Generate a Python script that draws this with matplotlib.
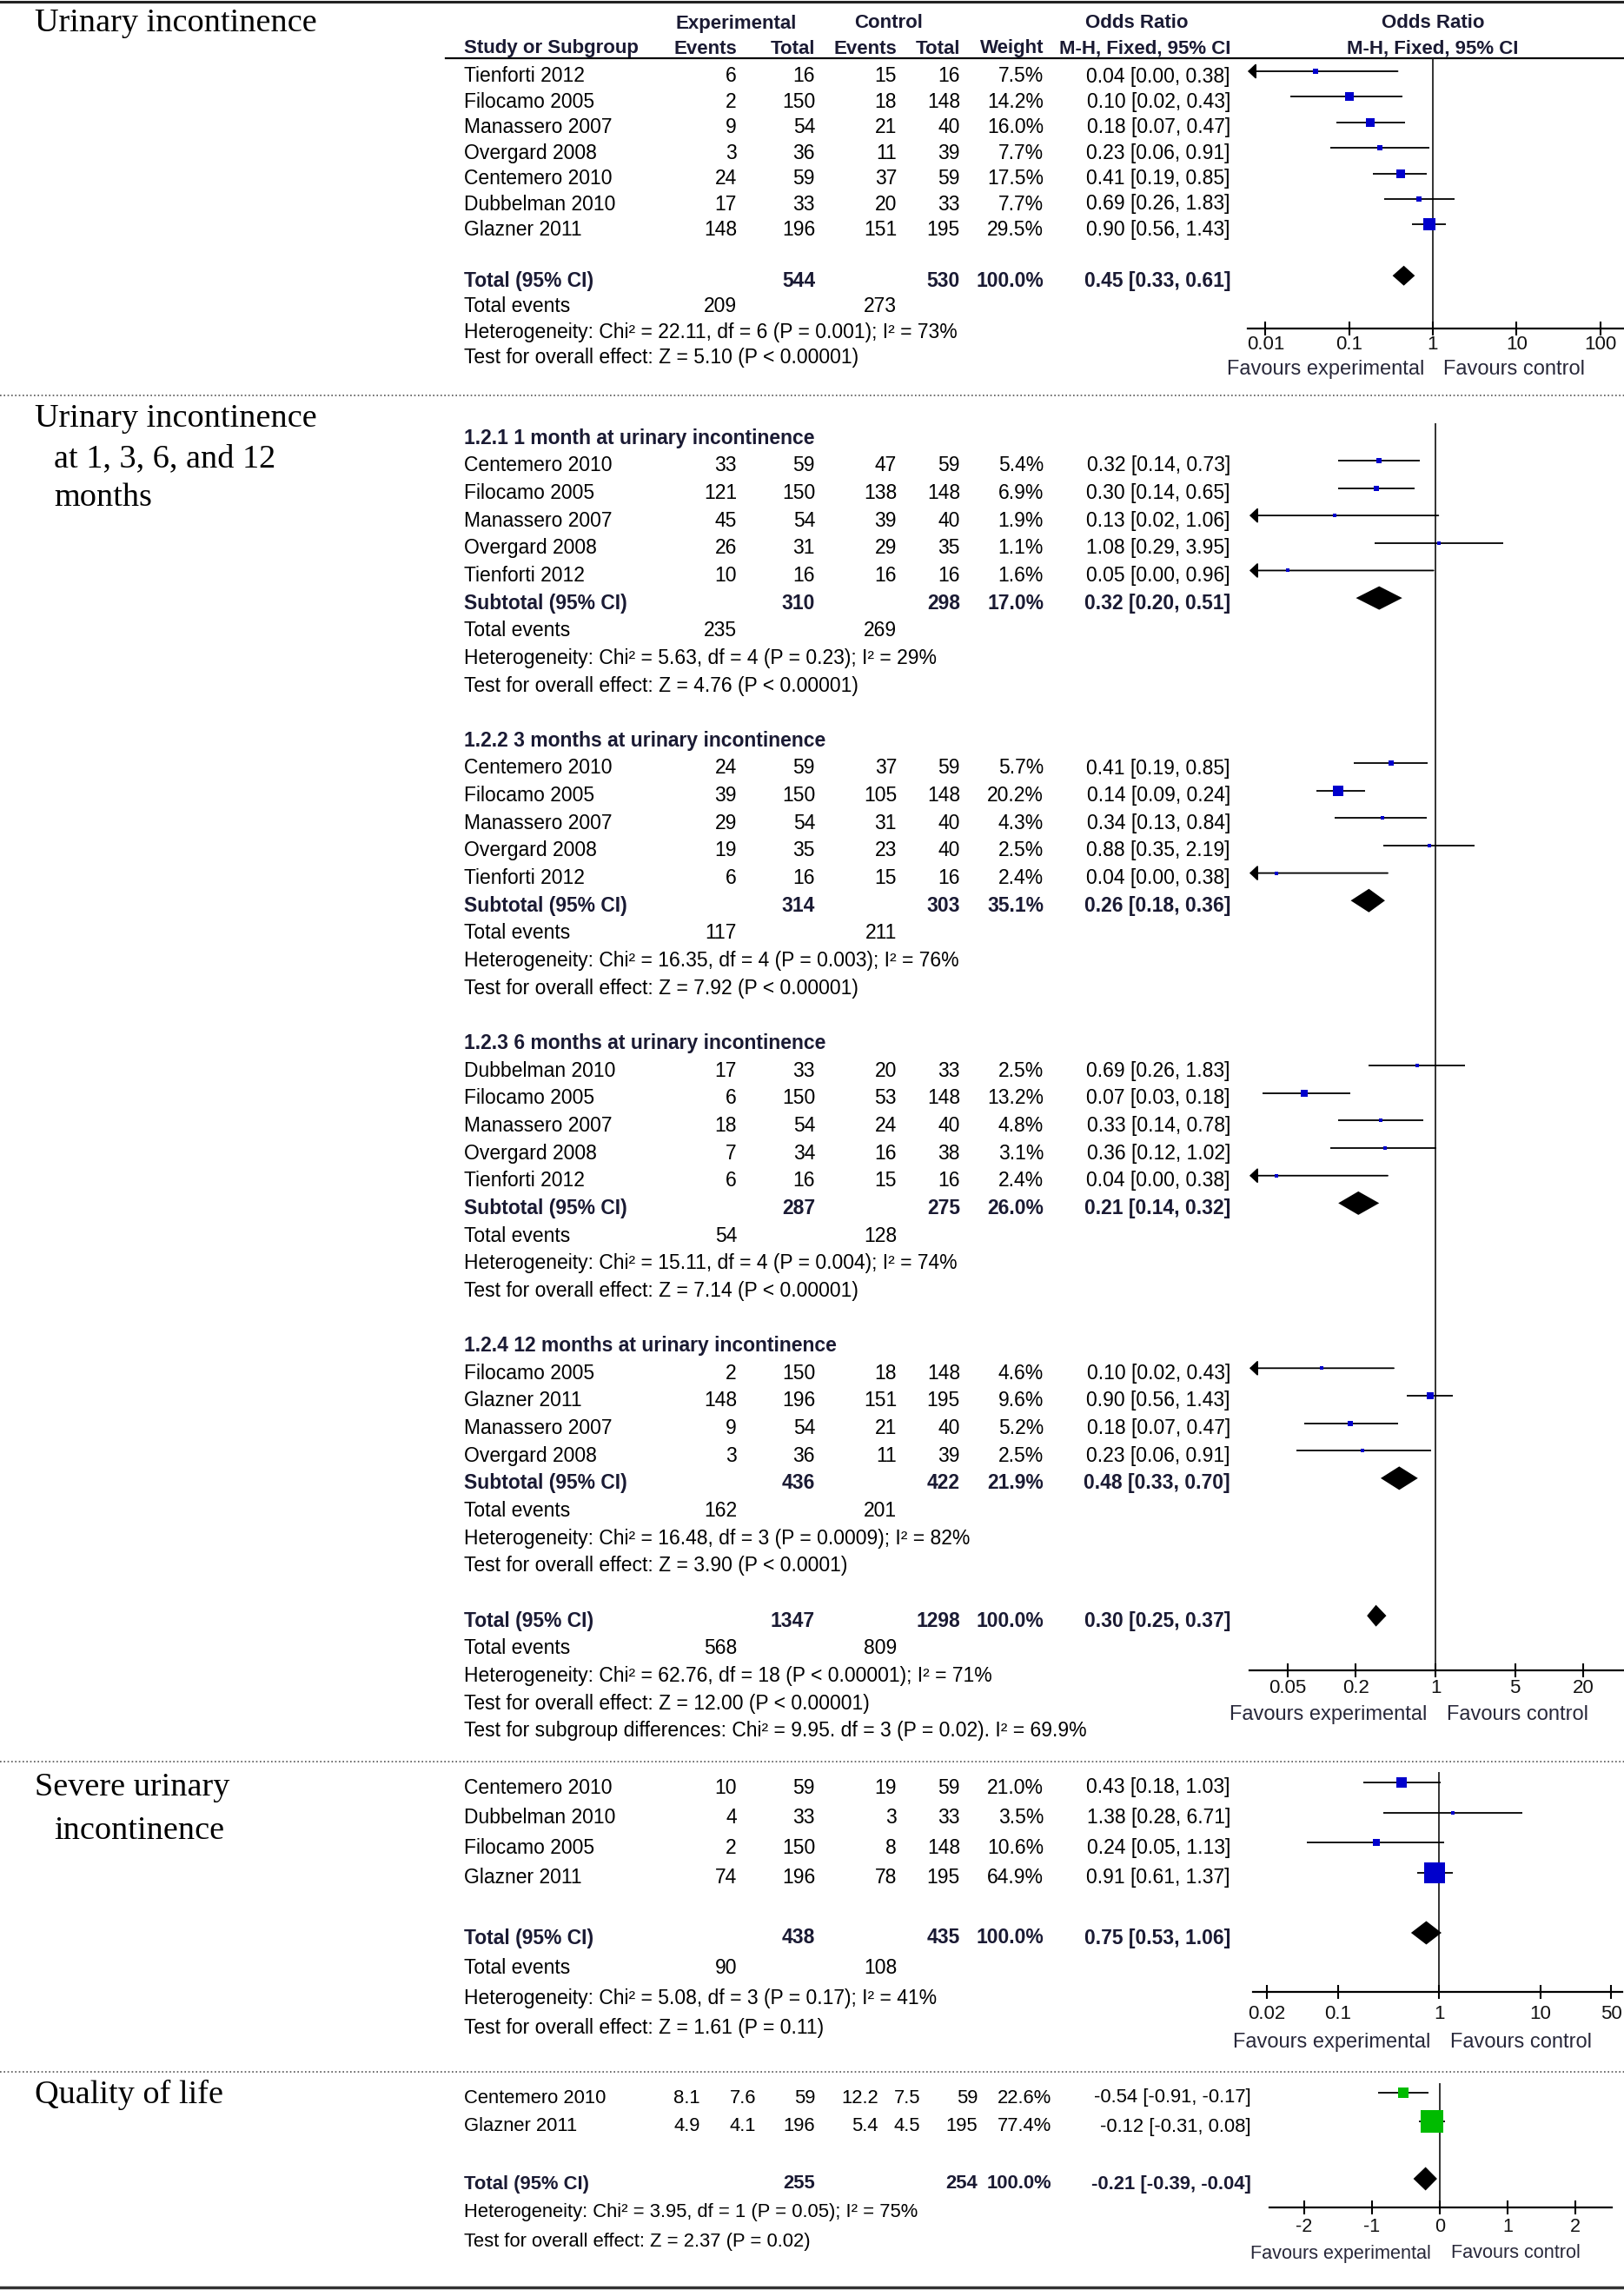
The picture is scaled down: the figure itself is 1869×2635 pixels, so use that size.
import matplotlib
matplotlib.use("Agg")
import matplotlib.pyplot as plt
from matplotlib.ticker import NullLocator

# ---------------- data ----------------
# Urinary incontinence (overall), odds ratio M-H fixed
ui_study = ['Tienforti 2012', 'Filocamo 2005', 'Manassero 2007', 'Overgard 2008',
            'Centemero 2010', 'Dubbelman 2010', 'Glazner 2011']
ui_exp_ev = [6, 2, 9, 3, 24, 17, 148]
ui_exp_n = [16, 150, 54, 36, 59, 33, 196]
ui_ctl_ev = [15, 18, 21, 11, 37, 20, 151]
ui_ctl_n = [16, 148, 40, 39, 59, 33, 195]
ui_weight = [7.5, 14.2, 16.0, 7.7, 17.5, 7.7, 29.5]
ui_or = [0.04, 0.10, 0.18, 0.23, 0.41, 0.69, 0.90]
ui_lo = [0.00, 0.02, 0.07, 0.06, 0.19, 0.26, 0.56]
ui_hi = [0.38, 0.43, 0.47, 0.91, 0.85, 1.83, 1.43]
ui_total = [544, 530, 100.0, 0.45, 0.33, 0.61]   # exp N, ctl N, weight, OR, lo, hi
ui_events = [209, 273]
ui_het = 'Heterogeneity: Chi² = 22.11, df = 6 (P = 0.001); I² = 73%'
ui_z = 'Test for overall effect: Z = 5.10 (P < 0.00001)'

# Urinary incontinence at 1, 3, 6 and 12 months
sub_name = ['1.2.1 1 month at urinary incontinence', '1.2.2 3 months at urinary incontinence',
            '1.2.3 6 months at urinary incontinence', '1.2.4 12 months at urinary incontinence']
sub_study = [['Centemero 2010', 'Filocamo 2005', 'Manassero 2007', 'Overgard 2008', 'Tienforti 2012'],
             ['Centemero 2010', 'Filocamo 2005', 'Manassero 2007', 'Overgard 2008', 'Tienforti 2012'],
             ['Dubbelman 2010', 'Filocamo 2005', 'Manassero 2007', 'Overgard 2008', 'Tienforti 2012'],
             ['Filocamo 2005', 'Glazner 2011', 'Manassero 2007', 'Overgard 2008']]
sub_exp_ev = [[33, 121, 45, 26, 10], [24, 39, 29, 19, 6], [17, 6, 18, 7, 6], [2, 148, 9, 3]]
sub_exp_n = [[59, 150, 54, 31, 16], [59, 150, 54, 35, 16], [33, 150, 54, 34, 16], [150, 196, 54, 36]]
sub_ctl_ev = [[47, 138, 39, 29, 16], [37, 105, 31, 23, 15], [20, 53, 24, 16, 15], [18, 151, 21, 11]]
sub_ctl_n = [[59, 148, 40, 35, 16], [59, 148, 40, 40, 16], [33, 148, 40, 38, 16], [148, 195, 40, 39]]
sub_weight = [[5.4, 6.9, 1.9, 1.1, 1.6], [5.7, 20.2, 4.3, 2.5, 2.4], [2.5, 13.2, 4.8, 3.1, 2.4],
              [4.6, 9.6, 5.2, 2.5]]
sub_or = [[0.32, 0.30, 0.13, 1.08, 0.05], [0.41, 0.14, 0.34, 0.88, 0.04], [0.69, 0.07, 0.33, 0.36, 0.04],
          [0.10, 0.90, 0.18, 0.23]]
sub_lo = [[0.14, 0.14, 0.02, 0.29, 0.00], [0.19, 0.09, 0.13, 0.35, 0.00], [0.26, 0.03, 0.14, 0.12, 0.00],
          [0.02, 0.56, 0.07, 0.06]]
sub_hi = [[0.73, 0.65, 1.06, 3.95, 0.96], [0.85, 0.24, 0.84, 2.19, 0.38], [1.83, 0.18, 0.78, 1.02, 0.38],
          [0.43, 1.43, 0.47, 0.91]]
sub_total = [[310, 298, 17.0, 0.32, 0.20, 0.51], [314, 303, 35.1, 0.26, 0.18, 0.36],
             [287, 275, 26.0, 0.21, 0.14, 0.32], [436, 422, 21.9, 0.48, 0.33, 0.70]]
sub_events = [[235, 269], [117, 211], [54, 128], [162, 201]]
sub_het = ['Heterogeneity: Chi² = 5.63, df = 4 (P = 0.23); I² = 29%',
           'Heterogeneity: Chi² = 16.35, df = 4 (P = 0.003); I² = 76%',
           'Heterogeneity: Chi² = 15.11, df = 4 (P = 0.004); I² = 74%',
           'Heterogeneity: Chi² = 16.48, df = 3 (P = 0.0009); I² = 82%']
sub_z = ['Test for overall effect: Z = 4.76 (P < 0.00001)',
         'Test for overall effect: Z = 7.92 (P < 0.00001)',
         'Test for overall effect: Z = 7.14 (P < 0.00001)',
         'Test for overall effect: Z = 3.90 (P < 0.0001)']
all_total = [1347, 1298, 100.0, 0.30, 0.25, 0.37]
all_events = [568, 809]
all_het = 'Heterogeneity: Chi² = 62.76, df = 18 (P < 0.00001); I² = 71%'
all_z = 'Test for overall effect: Z = 12.00 (P < 0.00001)'
all_sub = 'Test for subgroup differences: Chi² = 9.95. df = 3 (P = 0.02). I² = 69.9%'

# Severe urinary incontinence
sv_study = ['Centemero 2010', 'Dubbelman 2010', 'Filocamo 2005', 'Glazner 2011']
sv_exp_ev = [10, 4, 2, 74]
sv_exp_n = [59, 33, 150, 196]
sv_ctl_ev = [19, 3, 8, 78]
sv_ctl_n = [59, 33, 148, 195]
sv_weight = [21.0, 3.5, 10.6, 64.9]
sv_or = [0.43, 1.38, 0.24, 0.91]
sv_lo = [0.18, 0.28, 0.05, 0.61]
sv_hi = [1.03, 6.71, 1.13, 1.37]
sv_total = [438, 435, 100.0, 0.75, 0.53, 1.06]
sv_events = [90, 108]
sv_het = 'Heterogeneity: Chi² = 5.08, df = 3 (P = 0.17); I² = 41%'
sv_z = 'Test for overall effect: Z = 1.61 (P = 0.11)'

# Quality of life (mean difference)
ql_study = ['Centemero 2010', 'Glazner 2011']
ql_exp_mean = [8.1, 4.9]
ql_exp_sd = [7.6, 4.1]
ql_exp_n = [59, 196]
ql_ctl_mean = [12.2, 5.4]
ql_ctl_sd = [7.5, 4.5]
ql_ctl_n = [59, 195]
ql_weight = [22.6, 77.4]
ql_md = [-0.54, -0.12]
ql_lo = [-0.91, -0.31]
ql_hi = [-0.17, 0.08]
ql_total = [255, 254, 100.0, -0.21, -0.39, -0.04]
ql_het = 'Heterogeneity: Chi² = 3.95, df = 1 (P = 0.05); I² = 75%'
ql_z = 'Test for overall effect: Z = 2.37 (P = 0.02)'

# ---------------- drawing ----------------
W, H, DPI = 1869, 2635, 100
SANS = 'Liberation Sans'
SERIF = 'Liberation Serif'
NAVY = '#1a1a33'
BLUE = '#0000cc'
GREEN = '#00bb00'
FS = 16.5
MARK_DY = -6

fig = plt.figure(figsize=(W / DPI, H / DPI), dpi=DPI)
bg = fig.add_axes([0, 0, 1, 1])
bg.set_xlim(0, W)
bg.set_ylim(H, 0)
bg.axis('off')


def put(x, y, s, ha='left', bold=False, size=FS, color='black', family=SANS):
    bg.text(x, y, s, ha=ha, va='center', fontsize=size, family=family,
            fontweight='bold' if bold else 'normal', color=NAVY if bold else color)


def ci_text(e, lo, hi):
    return f'{e:.2f} [{lo:.2f}, {hi:.2f}]'


def make_forest(x0, x1, y_top, y_axis, xlim, ticks, labels, tick_y, fav_y,
                log=True, ref=1, lsize=16, fsize=17):
    ax = fig.add_axes([x0 / W, 1 - y_axis / H, (x1 - x0) / W, (y_axis - y_top) / H])
    ax.patch.set_visible(False)
    if log:
        ax.set_xscale('log')
    ax.set_xlim(*xlim)
    ax.set_ylim(y_axis, y_top)
    for s in ['top', 'left', 'right']:
        ax.spines[s].set_visible(False)
    ax.spines['bottom'].set_linewidth(1.6)
    ax.set_yticks([])
    ax.set_xticks(ticks)
    ax.xaxis.set_minor_locator(NullLocator())
    ax.tick_params(axis='x', direction='inout', length=11, width=1.5, labelbottom=False)
    ax.axvline(ref, color='#222222', lw=1.3, zorder=1)
    for t, lab in zip(ticks, labels):
        ax.text(t, tick_y, lab, ha='center', va='center', fontsize=lsize, family=SANS,
                color='#111111', clip_on=False)
    ax.annotate('Favours experimental', xy=(ref, fav_y), xytext=(-7, 0), textcoords='offset points',
                ha='right', va='center', fontsize=fsize, family=SANS, color='#28283a',
                annotation_clip=False)
    ax.annotate('Favours control', xy=(ref, fav_y), xytext=(9, 0), textcoords='offset points',
                ha='left', va='center', fontsize=fsize, family=SANS, color='#28283a',
                annotation_clip=False)
    return ax


def draw_study(ax, y, est, lo, hi, w, color=BLUE):
    y = y + MARK_DY
    xmin = ax.get_xlim()[0]
    if lo < xmin:
        ax.annotate('', xy=(xmin, y), xytext=(hi, y),
                    arrowprops=dict(arrowstyle='-|>,head_length=0.4,head_width=0.38',
                                    color='black', lw=1.3, shrinkA=0, shrinkB=0, mutation_scale=14),
                    annotation_clip=False)
    else:
        ax.plot([lo, hi], [y, y], color='black', lw=1.3, solid_capstyle='butt', zorder=2)
    side = max(4.0, 1.9 * w ** 0.6)
    ax.plot([est], [y], marker='s', ms=side * 72 / DPI, color=color, mew=0, zorder=3)


def draw_diamond(ax, y, est, lo, hi, h=13.5):
    y = y + MARK_DY
    ax.fill([lo, est, hi, est], [y, y - h, y, y + h], color='black', lw=0, zorder=3)


COLS = [848, 938, 1032, 1105, 1201, 1416]


def table_row(y, cells, bold=False, cols=COLS):
    for s, x in zip(cells, cols):
        if s != '':
            put(x, y, s, ha='right', bold=bold)


# frame lines
bg.plot([0, W], [1.5, 1.5], color='#222222', lw=2.2)
bg.plot([0, W], [2632, 2632], color='#333333', lw=2.5)
for ysep in [455, 2027, 2384]:
    bg.plot([0, W], [ysep, ysep], color='#555555', lw=1.2, linestyle=(0, (1, 1.6)))

# left-hand outcome labels
put(40, 27, 'Urinary incontinence', size=27.5, family=SERIF)
put(40, 482, 'Urinary incontinence', size=27.5, family=SERIF)
put(62, 528, 'at 1, 3, 6, and 12', size=27.5, family=SERIF)
put(62, 573, 'months', size=27.5, family=SERIF)
put(40, 2057, 'Severe urinary', size=27.5, family=SERIF)
put(62, 2107, 'incontinence', size=27.5, family=SERIF)
put(40, 2410, 'Quality of life', size=27.5, family=SERIF)

# ---- section 1 ----
put(847, 27, 'Experimental', ha='center', bold=True, size=16)
put(1023, 27, 'Control', ha='center', bold=True, size=16)
put(1308, 27, 'Odds Ratio', ha='center', bold=True, size=16)
put(1649, 27, 'Odds Ratio', ha='center', bold=True, size=16)
put(534, 56, 'Study or Subgroup', bold=True, size=16)
for s, x in zip(['Events', 'Total', 'Events', 'Total', 'Weight', 'M-H, Fixed, 95% CI'], COLS):
    put(x, 56, s, ha='right', bold=True, size=16)
put(1649, 56, 'M-H, Fixed, 95% CI', ha='center', bold=True, size=16)
bg.plot([513, W], [67, 67], color='black', lw=1.6)

ax1 = make_forest(1436, 1869, 67, 378, (10 ** -2.212, 10 ** 2.285), [0.01, 0.1, 1, 10, 100],
                  ['0.01', '0.1', '1', '10', '100'], 397, 425)
step1 = 29.4
for i in range(len(ui_study)):
    y = 88 + i * step1
    put(534, y, ui_study[i])
    table_row(y, [str(ui_exp_ev[i]), str(ui_exp_n[i]), str(ui_ctl_ev[i]), str(ui_ctl_n[i]),
                  f'{ui_weight[i]:.1f}%', ci_text(ui_or[i], ui_lo[i], ui_hi[i])])
    draw_study(ax1, y, ui_or[i], ui_lo[i], ui_hi[i], ui_weight[i])
y = 88 + 8 * step1
put(534, y, 'Total (95% CI)', bold=True)
table_row(y, ['', str(ui_total[0]), '', str(ui_total[1]), f'{ui_total[2]:.1f}%',
              ci_text(*ui_total[3:])], bold=True)
draw_diamond(ax1, y, ui_total[3], ui_total[4], ui_total[5], h=11.5)
y = 88 + 9 * step1
put(534, y, 'Total events')
table_row(y, [str(ui_events[0]), '', str(ui_events[1])])
put(534, 88 + 10 * step1, ui_het)
put(534, 88 + 11 * step1, ui_z)

# ---- section 2 ----
ax2 = make_forest(1438, 1869, 487, 1922, (10 ** -1.634, 10 ** 1.656), [0.05, 0.2, 1, 5, 20],
                  ['0.05', '0.2', '1', '5', '20'], 1943, 1973)
y0, step2 = 504.2, 31.65
k = 0
for g in range(len(sub_name)):
    put(534, y0 + k * step2, sub_name[g], bold=True)
    k += 1
    for i in range(len(sub_study[g])):
        y = y0 + k * step2
        put(534, y, sub_study[g][i])
        table_row(y, [str(sub_exp_ev[g][i]), str(sub_exp_n[g][i]), str(sub_ctl_ev[g][i]),
                      str(sub_ctl_n[g][i]), f'{sub_weight[g][i]:.1f}%',
                      ci_text(sub_or[g][i], sub_lo[g][i], sub_hi[g][i])])
        draw_study(ax2, y, sub_or[g][i], sub_lo[g][i], sub_hi[g][i], sub_weight[g][i])
        k += 1
    y = y0 + k * step2
    t = sub_total[g]
    put(534, y, 'Subtotal (95% CI)', bold=True)
    table_row(y, ['', str(t[0]), '', str(t[1]), f'{t[2]:.1f}%', ci_text(*t[3:])], bold=True)
    draw_diamond(ax2, y, t[3], t[4], t[5])
    k += 1
    y = y0 + k * step2
    put(534, y, 'Total events')
    table_row(y, [str(sub_events[g][0]), '', str(sub_events[g][1])])
    put(534, y0 + (k + 1) * step2, sub_het[g])
    put(534, y0 + (k + 2) * step2, sub_z[g])
    k += 4
y = y0 + k * step2
put(534, y, 'Total (95% CI)', bold=True)
table_row(y, ['', str(all_total[0]), '', str(all_total[1]), f'{all_total[2]:.1f}%',
              ci_text(*all_total[3:])], bold=True)
draw_diamond(ax2, y, all_total[3], all_total[4], all_total[5], h=12.5)
put(534, y0 + (k + 1) * step2, 'Total events')
table_row(y0 + (k + 1) * step2, [str(all_events[0]), '', str(all_events[1])])
put(534, y0 + (k + 2) * step2, all_het)
put(534, y0 + (k + 3) * step2, all_z)
put(534, y0 + (k + 4) * step2, all_sub)

# ---- section 3 ----
ax3 = make_forest(1442, 1867, 2039, 2292, (10 ** -1.837, 10 ** 1.811), [0.02, 0.1, 1, 10, 50],
                  ['0.02', '0.1', '1', '10', '50'], 2318, 2350)
y0, step3 = 2057, 34.6
for i in range(len(sv_study)):
    y = y0 + i * step3
    put(534, y, sv_study[i])
    table_row(y, [str(sv_exp_ev[i]), str(sv_exp_n[i]), str(sv_ctl_ev[i]), str(sv_ctl_n[i]),
                  f'{sv_weight[i]:.1f}%', ci_text(sv_or[i], sv_lo[i], sv_hi[i])])
    draw_study(ax3, y, sv_or[i], sv_lo[i], sv_hi[i], sv_weight[i])
y = y0 + 5 * step3
put(534, y, 'Total (95% CI)', bold=True)
table_row(y, ['', str(sv_total[0]), '', str(sv_total[1]), f'{sv_total[2]:.1f}%',
              ci_text(*sv_total[3:])], bold=True)
draw_diamond(ax3, y, sv_total[3], sv_total[4], sv_total[5])
put(534, y0 + 6 * step3, 'Total events')
table_row(y0 + 6 * step3, [str(sv_events[0]), '', str(sv_events[1])])
put(534, y0 + 7 * step3, sv_het)
put(534, y0 + 8 * step3, sv_z)

# ---- section 4 ----
FS4 = 15.8
COLS4 = [806, 870, 938, 1011, 1059, 1125, 1210, 1440]
ax4 = make_forest(1461, 1855, 2397, 2540, (-2.513, 2.538), [-2, -1, 0, 1, 2],
                  ['-2', '-1', '0', '1', '2'], 2563, 2593, log=False, ref=0, lsize=15.5, fsize=15.6)
y0, step4 = 2414, 33
for i in range(len(ql_study)):
    y = y0 + i * step4
    put(534, y, ql_study[i], size=FS4)
    cells = [f'{ql_exp_mean[i]:.1f}', f'{ql_exp_sd[i]:.1f}', str(ql_exp_n[i]),
             f'{ql_ctl_mean[i]:.1f}', f'{ql_ctl_sd[i]:.1f}', str(ql_ctl_n[i]),
             f'{ql_weight[i]:.1f}%', ci_text(ql_md[i], ql_lo[i], ql_hi[i])]
    for s, x in zip(cells, COLS4):
        put(x, y, s, ha='right', size=FS4)
    draw_study(ax4, y, ql_md[i], ql_lo[i], ql_hi[i], ql_weight[i], color=GREEN)
y = y0 + 3 * step4
put(534, y, 'Total (95% CI)', bold=True, size=FS4)
cells = ['', '', str(ql_total[0]), '', '', str(ql_total[1]), f'{ql_total[2]:.1f}%', ci_text(*ql_total[3:])]
for s, x in zip(cells, COLS4):
    if s:
        put(x, y, s, ha='right', bold=True, size=FS4)
draw_diamond(ax4, y, ql_total[3], ql_total[4], ql_total[5])
put(534, y0 + 4 * step4, ql_het, size=FS4)
put(534, y0 + 5 * step4, ql_z, size=FS4)

fig.savefig('out.png', dpi=DPI)
